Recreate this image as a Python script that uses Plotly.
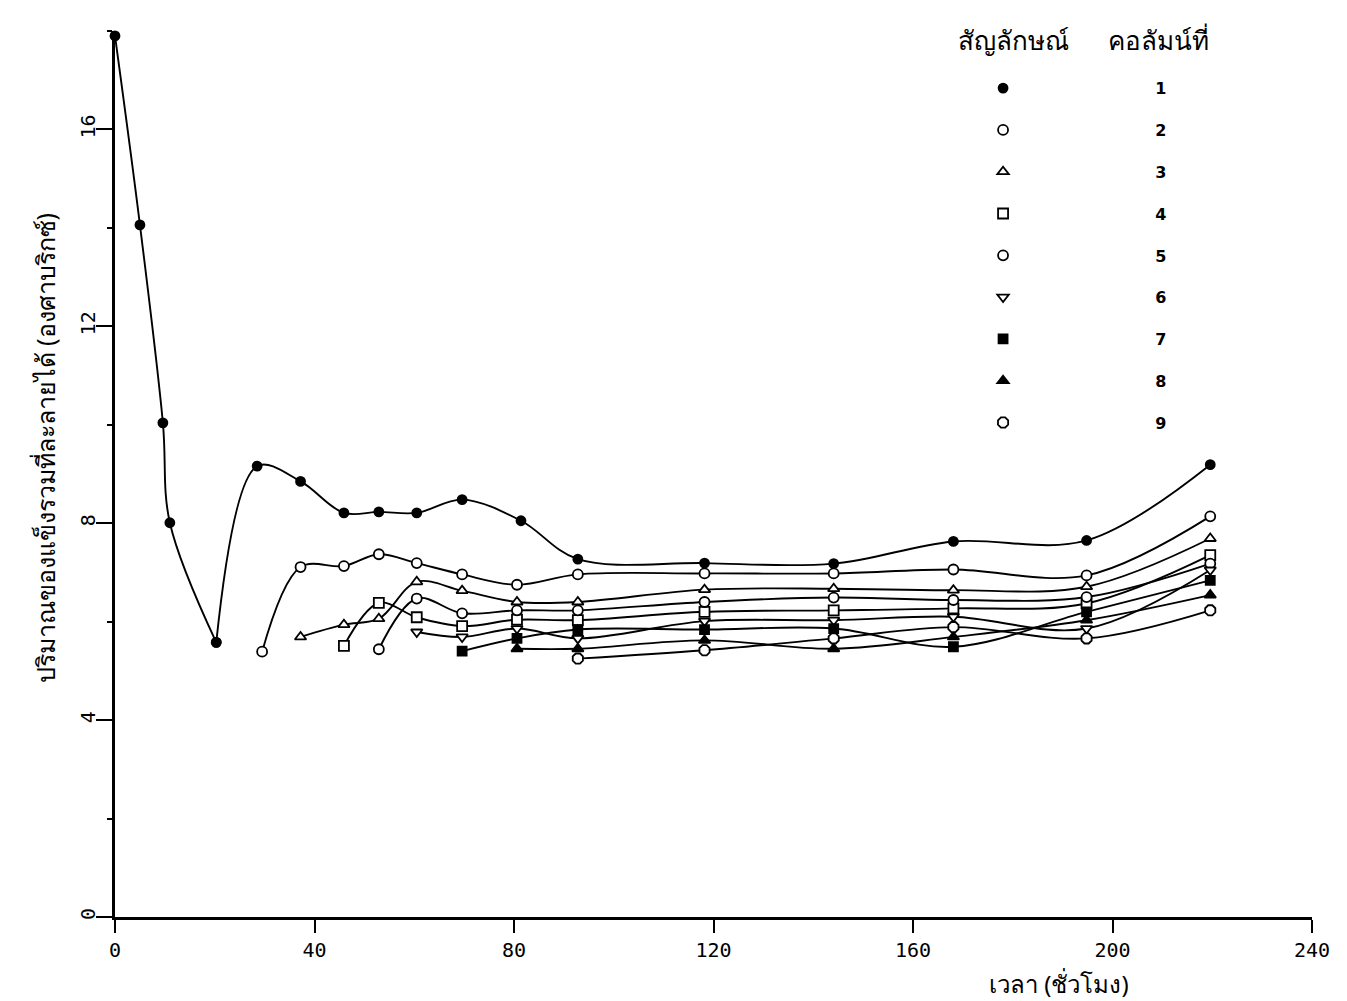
import plotly.graph_objects as go

# ---------------- data ----------------
t1 = [0, 5, 9.6, 11, 20.3, 28.5, 37.2, 45.9, 52.9, 60.5, 69.6, 81.4, 92.8, 118.2, 144.1, 168.1, 194.8, 219.6]
v1 = [17.9, 14.06, 10.04, 8.01, 5.58, 9.16, 8.85, 8.21, 8.23, 8.21, 8.48, 8.05, 7.27, 7.19, 7.18, 7.63, 7.65, 9.19]

t2 = [29.5, 37.2, 45.9, 52.9, 60.5, 69.6, 80.6, 92.8, 118.2, 144.1, 168.1, 194.8, 219.6]
v2 = [5.39, 7.11, 7.13, 7.37, 7.19, 6.96, 6.75, 6.96, 6.98, 6.98, 7.06, 6.94, 8.14]

t3 = [37.2, 45.9, 52.9, 60.5, 69.6, 80.6, 92.8, 118.2, 144.1, 168.1, 194.8, 219.6]
v3 = [5.69, 5.94, 6.06, 6.81, 6.63, 6.40, 6.40, 6.65, 6.67, 6.64, 6.71, 7.69]

t4 = [45.9, 52.9, 60.5, 69.6, 80.6, 92.8, 118.2, 144.1, 168.1, 194.8, 219.6]
v4 = [5.51, 6.38, 6.09, 5.91, 6.04, 6.03, 6.20, 6.23, 6.27, 6.37, 7.35]

t5 = [52.9, 60.5, 69.6, 80.6, 92.8, 118.2, 144.1, 168.1, 194.8, 219.6]
v5 = [5.44, 6.47, 6.17, 6.23, 6.23, 6.40, 6.49, 6.44, 6.50, 7.18]

t6 = [60.5, 69.6, 80.6, 92.8, 118.2, 144.1, 168.1, 194.8, 219.6]
v6 = [5.79, 5.69, 5.86, 5.66, 6.01, 6.03, 6.10, 5.86, 7.05]

t7 = [69.6, 80.6, 92.8, 118.2, 144.1, 168.1, 194.8, 219.6]
v7 = [5.40, 5.66, 5.84, 5.84, 5.86, 5.49, 6.20, 6.84]

t8 = [80.6, 92.8, 118.2, 144.1, 168.1, 194.8, 219.6]
v8 = [5.45, 5.45, 5.62, 5.45, 5.69, 6.03, 6.54]

t9 = [92.8, 118.2, 144.1, 168.1, 194.8, 219.6]
v9 = [5.25, 5.42, 5.66, 5.89, 5.66, 6.23]

column_labels = ["1", "2", "3", "4", "5", "6", "7", "8", "9"]
x_ticks = [0, 40, 80, 120, 160, 200, 240]
y_ticks = [0, 4, 8, 12, 16]

x_title = "เวลา (ชั่วโมง)"
y_title = "ปริมาณของแข็งรวมที่ละลายได้ (องศาบริกซ์)"
legend_head_left = "สัญลักษณ์"
legend_head_right = "คอลัมน์ที่"

# ---------------- styles ----------------
symbols = ["circle", "circle", "triangle-up", "square", "circle",
           "triangle-down", "square", "triangle-up", "octagon"]
fills = ["black", "white", "white", "white", "white", "white", "black", "black", "white"]
sizes = [9, 10, 10, 10, 10, 10, 9, 10, 11]

series = [(t1, v1), (t2, v2), (t3, v3), (t4, v4), (t5, v5),
          (t6, v6), (t7, v7), (t8, v8), (t9, v9)]

fig = go.Figure()

def add_line(tt, vv, i):
    fig.add_trace(go.Scatter(
        x=tt, y=vv, mode="lines+markers",
        line=dict(color="black", width=1.9, shape="spline", smoothing=1.0),
        marker=dict(symbol=symbols[i], size=sizes[i], color=fills[i],
                    line=dict(color="black", width=1.8)),
        cliponaxis=False, showlegend=False, hoverinfo="x+y"))

# column 1: the descending branch and the later branch are drawn separately
split = v1.index(min(v1[:8]))
add_line(t1[:split + 1], v1[:split + 1], 0)
add_line(t1[split:], v1[split:], 0)
for i in range(1, 9):
    add_line(series[i][0], series[i][1], i)

# legend-only marker entries
NB = "\u00a0"
for i in range(9):
    fig.add_trace(go.Scatter(
        x=[None], y=[None], mode="markers",
        marker=dict(symbol=symbols[i], size=sizes[i], color=fills[i],
                    line=dict(color="black", width=1.8)),
        name=NB * 26 + "<b>" + column_labels[i] + "</b>",
        legendgroup=f"g{i}", showlegend=True))

fig.update_layout(
    width=1347, height=1001,
    paper_bgcolor="white", plot_bgcolor="white",
    margin=dict(l=115, r=35, t=31, b=84, autoexpand=False),
    font=dict(family="Noto Sans, DejaVu Sans, sans-serif", color="black"),
    showlegend=True,
    legend=dict(
        x=0.7252, y=0.9546, xanchor="left", yanchor="top",
        bgcolor="rgba(0,0,0,0)", borderwidth=0,
        traceorder="grouped", tracegroupgap=18,
        font=dict(size=16, family="DejaVu Sans", color="black"),
    ),
    xaxis=dict(
        range=[0, 240], tickvals=x_ticks, ticktext=[str(v) for v in x_ticks],
        showgrid=False, zeroline=False, showline=True, linecolor="black", linewidth=2.5,
        ticks="outside", ticklen=13, tickwidth=2, tickcolor="black",
        tickfont=dict(size=20, family="DejaVu Sans Mono", color="black"),
    ),
    yaxis=dict(
        range=[0, 18], tickvals=y_ticks, ticktext=[str(v) for v in y_ticks],
        showgrid=False, zeroline=False, showline=True, linecolor="black", linewidth=2.5,
        ticks="outside", ticklen=16, tickwidth=2, tickcolor="black",
        tickangle=-90,
        minor=dict(dtick=2, ticks="outside", ticklen=5, tickwidth=2, tickcolor="black"),
        tickfont=dict(size=20, family="DejaVu Sans Mono", color="black"),
    ),
    annotations=[
        dict(text=x_title, xref="paper", yref="paper", x=0.789, y=-0.0755,
             xanchor="center", yanchor="middle", showarrow=False,
             font=dict(size=24, color="black")),
        dict(text=y_title, xref="paper", yref="paper", x=-0.0585, y=0.53,
             xanchor="center", yanchor="middle", textangle=-90, showarrow=False,
             font=dict(size=25, color="black")),
        dict(text=legend_head_left, xref="paper", yref="paper",
             x=(1013 - 115) / 1197, y=1 - (40 - 31) / 886,
             xanchor="center", yanchor="middle", showarrow=False,
             font=dict(size=26, color="black")),
        dict(text=legend_head_right, xref="paper", yref="paper",
             x=(1158 - 115) / 1197, y=1 - (40 - 31) / 886,
             xanchor="center", yanchor="middle", showarrow=False,
             font=dict(size=26, color="black")),
    ],
)

try:
    fig.update_yaxes(ticklabelstandoff=-7)
except Exception:
    pass

fig.write_html("out.html", config={"displayModeBar": False},
               post_script="document.body.style.margin='0px';")
